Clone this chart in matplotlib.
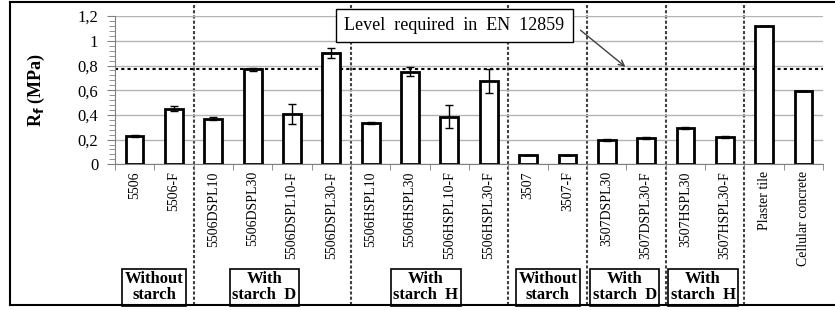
import numpy as np
import matplotlib
matplotlib.use("Agg")
import matplotlib.pyplot as plt
from matplotlib.transforms import blended_transform_factory
from matplotlib.lines import Line2D

plt.rcParams['font.family'] = ['Liberation Serif', 'DejaVu Serif']

# =========================================================
# DATA
# =========================================================
samples = ["5506", "5506-F",
           "5506DSPL10", "5506DSPL30", "5506DSPL10-F", "5506DSPL30-F",
           "5506HSPL10", "5506HSPL30", "5506HSPL10-F", "5506HSPL30-F",
           "3507", "3507-F",
           "3507DSPL30", "3507DSPL30-F",
           "3507HSPL30", "3507HSPL30-F",
           "Plaster tile", "Cellular concrete"]
rf = [0.23, 0.45, 0.37, 0.77, 0.405, 0.90, 0.335, 0.75, 0.385, 0.675,
      0.073, 0.078, 0.20, 0.215, 0.295, 0.222, 1.12, 0.59]
rf_err = [0.008, 0.02, 0.01, 0.012, 0.08, 0.04, 0.008, 0.038, 0.095, 0.10,
          0.0, 0.0, 0.008, 0.008, 0.01, 0.008, 0.0, 0.0]

level_en12859 = 0.775
level_text = "Level  required  in  EN  12859"

# group boundaries (index of first sample after separator) and labels
separators = [2, 6, 10, 12, 14, 16]
group_labels = ["Without\nstarch", "With\nstarch  D", "With\nstarch  H",
                "Without\nstarch", "With\nstarch  D", "With\nstarch  H"]
group_pos = [0.5, 3.3, 7.4, 10.5, 12.46, 14.45]

# =========================================================
# FIGURE
# =========================================================
fig = plt.figure(figsize=(8.35, 3.10), dpi=100)
ax = fig.add_axes([0.1377, 0.47, 0.848, 0.478])

x = np.arange(len(samples))
ax.bar(x, rf, width=0.45, color='white', edgecolor='black', linewidth=2, zorder=3)
ax.errorbar(x, rf, yerr=rf_err, fmt='none', ecolor='black', elinewidth=1,
            capsize=3, capthick=1, zorder=4)

ax.set_xlim(-0.5, len(samples) - 0.5)
ax.set_ylim(0, 1.2)
ax.set_yticks(np.arange(0, 1.21, 0.2))
ax.set_yticklabels([f"{v:g}".replace('.', ',') for v in np.arange(0, 1.21, 0.2).round(1)],
                   fontsize=12)
ax.set_yticks(np.arange(0, 1.2, 0.04), minor=True)
ax.grid(axis='y', which='major', color='#b4b4b4', linewidth=1, zorder=0)

ax.set_xticks(x)
ax.set_xticklabels(samples, rotation=90, fontsize=10, va='top')
ax.set_xticks(np.arange(-0.5, len(samples)), minor=True)
ax.tick_params(axis='x', which='major', length=0, pad=5)
ax.tick_params(axis='x', which='minor', length=4, color='#808080')
ax.tick_params(axis='y', which='both', color='#808080')
ax.tick_params(axis='y', which='major', length=6, pad=6)
ax.tick_params(axis='y', which='minor', length=4)

for s in ['top', 'right']:
    ax.spines[s].set_visible(False)
for s in ['left', 'bottom']:
    ax.spines[s].set_color('#808080')

ax.set_ylabel(r"R$_\mathbf{f}$ (MPa)", fontsize=13, fontweight='bold', labelpad=22)

# required level line
ax.axhline(level_en12859, color='black', linestyle=(0, (1.5, 1.5)), linewidth=1.5,
           zorder=2)

# text box and arrow
ax.text(8.13, 1.127, level_text, ha='center', va='center', fontsize=13,
        clip_on=False, zorder=6,
        bbox=dict(boxstyle='square,pad=0.45', facecolor='white',
                  edgecolor='black', linewidth=1))
ax.annotate("", xy=(12.53, level_en12859), xytext=(11.28, 1.10),
            arrowprops=dict(arrowstyle='->', color='#404040', linewidth=1),
            annotation_clip=False, zorder=5)

# vertical dotted separators through the whole figure
trans = blended_transform_factory(ax.transData, fig.transFigure)
for s in separators:
    ax.plot([s - 0.5, s - 0.5], [0.016, 0.994], transform=trans, color='#404040',
            linestyle=(0, (1.5, 1)), linewidth=1.5, clip_on=False, zorder=1)

# group label boxes
for lab, pos in zip(group_labels, group_pos):
    ax.text(pos, 0.074, lab, transform=trans, ha='center', va='center',
            fontsize=12, fontweight='bold', linespacing=1.0,
            bbox=dict(boxstyle='square,pad=0.15', facecolor='white',
                      edgecolor='black', linewidth=1.2))

# outer frame (left, top, bottom)
fig.add_artist(Line2D([0.0114, 0.0114], [0.016, 0.994], color='black', linewidth=1.5))
fig.add_artist(Line2D([0.0114, 1.0], [0.994, 0.994], color='black', linewidth=1.5))
fig.add_artist(Line2D([0.0114, 1.0], [0.016, 0.016], color='black', linewidth=1.5))

fig.savefig("out.png", dpi=100)
